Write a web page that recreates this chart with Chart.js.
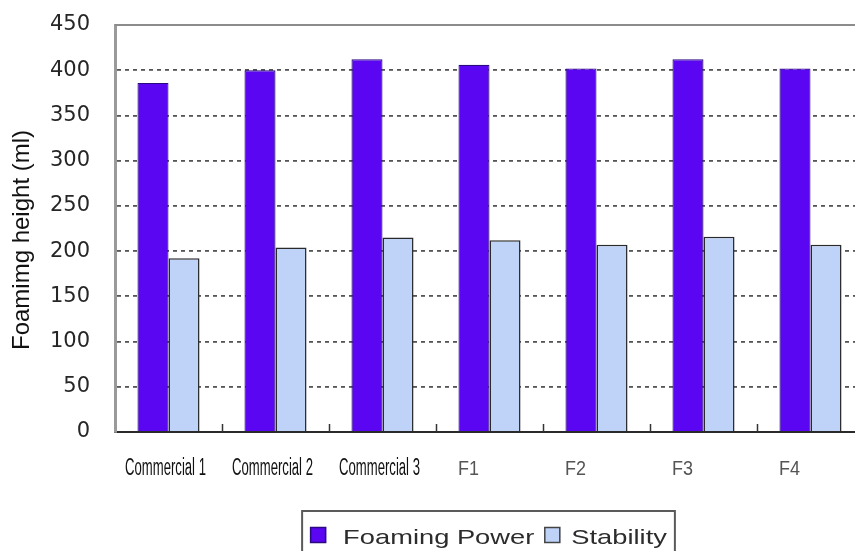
<!DOCTYPE html>
<html>
<head>
<meta charset="utf-8">
<script src="https://cdn.jsdelivr.net/npm/chart.js@4/dist/chart.umd.min.js"></script>
<style>
  html, body { margin: 0; padding: 0; background: #ffffff; overflow: hidden; }
  #wrap { width: 880px; height: 551px; }
</style>
</head>
<body>
<div id="wrap"><canvas id="foam" width="880" height="551"></canvas></div>
<script>
// Foam test results: initial foam height and height after standing
const categories = ['Commercial 1', 'Commercial 2', 'Commercial 3', 'F1', 'F2', 'F3', 'F4'];
const foamingPower = [386, 400, 412, 406, 402, 412, 402];
const stability = [192, 204, 215, 212, 207, 216, 207];
const yTicks = [0, 50, 100, 150, 200, 250, 300, 350, 400, 450];
const yTitle = 'Foamimg height (ml)';
const seriesNames = ['Foaming Power', 'Stability'];

const PURPLE = '#5a06f2';
const LIGHT = '#bfd2f7';

// Extra drawing: top frame line, inner category ticks, category labels,
// rotated axis title and a boxed legend under the plot.
const decor = {
  id: 'decor',
  afterDraw(chart) {
    const ctx = chart.ctx;
    const area = chart.chartArea;
    const xs = chart.scales.x;

    ctx.save();
    // top frame line
    ctx.strokeStyle = '#8c8c8c';
    ctx.lineWidth = 2;
    ctx.beginPath();
    ctx.moveTo(area.left, area.top);
    ctx.lineTo(area.right, area.top);
    ctx.stroke();

    // short ticks between categories, pointing into the plot
    ctx.strokeStyle = '#333333';
    ctx.lineWidth = 1.5;
    for (let i = 1; i < categories.length; i++) {
      const x = Math.round(xs.getPixelForValue(i - 0.5)) + 0.5;
      ctx.beginPath();
      ctx.moveTo(x, area.bottom);
      ctx.lineTo(x, area.bottom - 8);
      ctx.stroke();
    }

    // category labels
    ctx.textBaseline = 'alphabetic';
    ctx.textAlign = 'center';
    categories.forEach((label, i) => {
      const cx = xs.getPixelForValue(i);
      const narrow = label.startsWith('Commercial');
      ctx.save();
      if (narrow) {
        ctx.font = '23px "Liberation Sans", Arial, sans-serif';
        ctx.fillStyle = '#111111';
        ctx.translate(cx - 3, area.bottom + 43);
        ctx.scale(0.57, 1);
      } else {
        ctx.font = '20px "Liberation Sans", Arial, sans-serif';
        ctx.fillStyle = '#555555';
        ctx.translate(cx - 21, area.bottom + 43);
        ctx.scale(0.9, 1);
      }
      ctx.fillText(label, 0, 0);
      ctx.restore();
    });

    // y axis title
    ctx.save();
    ctx.font = '24px "Liberation Sans", Arial, sans-serif';
    ctx.fillStyle = '#111111';
    ctx.textAlign = 'center';
    ctx.textBaseline = 'middle';
    ctx.translate(22, 240);
    ctx.rotate(-Math.PI / 2);
    ctx.fillText(yTitle, 0, 0);
    ctx.restore();

    // legend
    const sx = 1.3;
    ctx.font = '21px "Liberation Sans", Arial, sans-serif';
    const w1 = ctx.measureText(seriesNames[0]).width * sx;
    const w2 = ctx.measureText(seriesNames[1]).width * sx;
    const sq = 16;
    const boxW = 8 + sq + 17 + w1 + 10 + sq + 11 + w2 + 8;
    const centerX = (area.left + area.right) / 2 - 1;
    const boxL = centerX - boxW / 2;
    const boxT = 511;
    ctx.strokeStyle = '#5a5a5a';
    ctx.lineWidth = 2;
    ctx.strokeRect(boxL, boxT, boxW, 60);

    const fills = [PURPLE, LIGHT];
    const widths = [w1, w2];
    let x = boxL + 8;
    seriesNames.forEach((name, k) => {
      ctx.fillStyle = fills[k];
      ctx.fillRect(x, 527, sq, sq);
      ctx.strokeStyle = k === 0 ? '#2b0a80' : '#444444';
      ctx.lineWidth = 1.5;
      ctx.strokeRect(x + 0.5, 527.5, sq - 1, sq - 1);
      x += sq + (k === 0 ? 17 : 11);
      ctx.save();
      ctx.fillStyle = '#2c2c2c';
      ctx.textAlign = 'left';
      ctx.textBaseline = 'alphabetic';
      ctx.translate(x, 544);
      ctx.scale(sx, 1);
      ctx.fillText(name, 0, 0);
      ctx.restore();
      x += widths[k] + 10;
    });
    ctx.restore();
  }
};

new Chart(document.getElementById('foam'), {
  type: 'bar',
  data: {
    labels: categories,
    datasets: [
      {
        label: seriesNames[0],
        data: foamingPower,
        backgroundColor: PURPLE,
        borderColor: '#2b0a80',
        borderWidth: 1.2
      },
      {
        label: seriesNames[1],
        data: stability,
        backgroundColor: LIGHT,
        borderColor: '#2a2a2a',
        borderWidth: 1.5
      }
    ]
  },
  options: {
    responsive: false,
    animation: false,
    devicePixelRatio: 1,
    layout: { padding: { top: 25, right: 16, bottom: 119, left: 0 } },
    datasets: { bar: { categoryPercentage: 0.58, barPercentage: 1.0 } },
    plugins: {
      legend: { display: false },
      tooltip: { enabled: false }
    },
    scales: {
      x: {
        grid: { display: false, drawTicks: false },
        border: { display: true, color: '#2a2a2a', width: 2 },
        ticks: { display: false },
        afterFit(scale) { scale.height = 0; }
      },
      y: {
        min: 0,
        max: 450,
        afterBuildTicks(scale) { scale.ticks = yTicks.map(v => ({ value: v })); },
        afterFit(scale) {
          scale.width = 115;
          scale.paddingTop = 0;
          scale.paddingBottom = 0;
        },
        grid: {
          drawTicks: false,
          lineWidth: 1.8,
          color(ctx) {
            const v = ctx.tick ? ctx.tick.value : null;
            return (v === 0 || v === 450) ? 'rgba(0,0,0,0)' : '#555555';
          }
        },
        border: { display: true, color: '#9a9a9a', width: 3, dash: [4, 4] },
        ticks: {
          padding: 25,
          color: '#262626',
          font: { family: '"DejaVu Sans", sans-serif', size: 21 }
        }
      }
    }
  },
  plugins: [decor]
});
</script>
</body>
</html>
